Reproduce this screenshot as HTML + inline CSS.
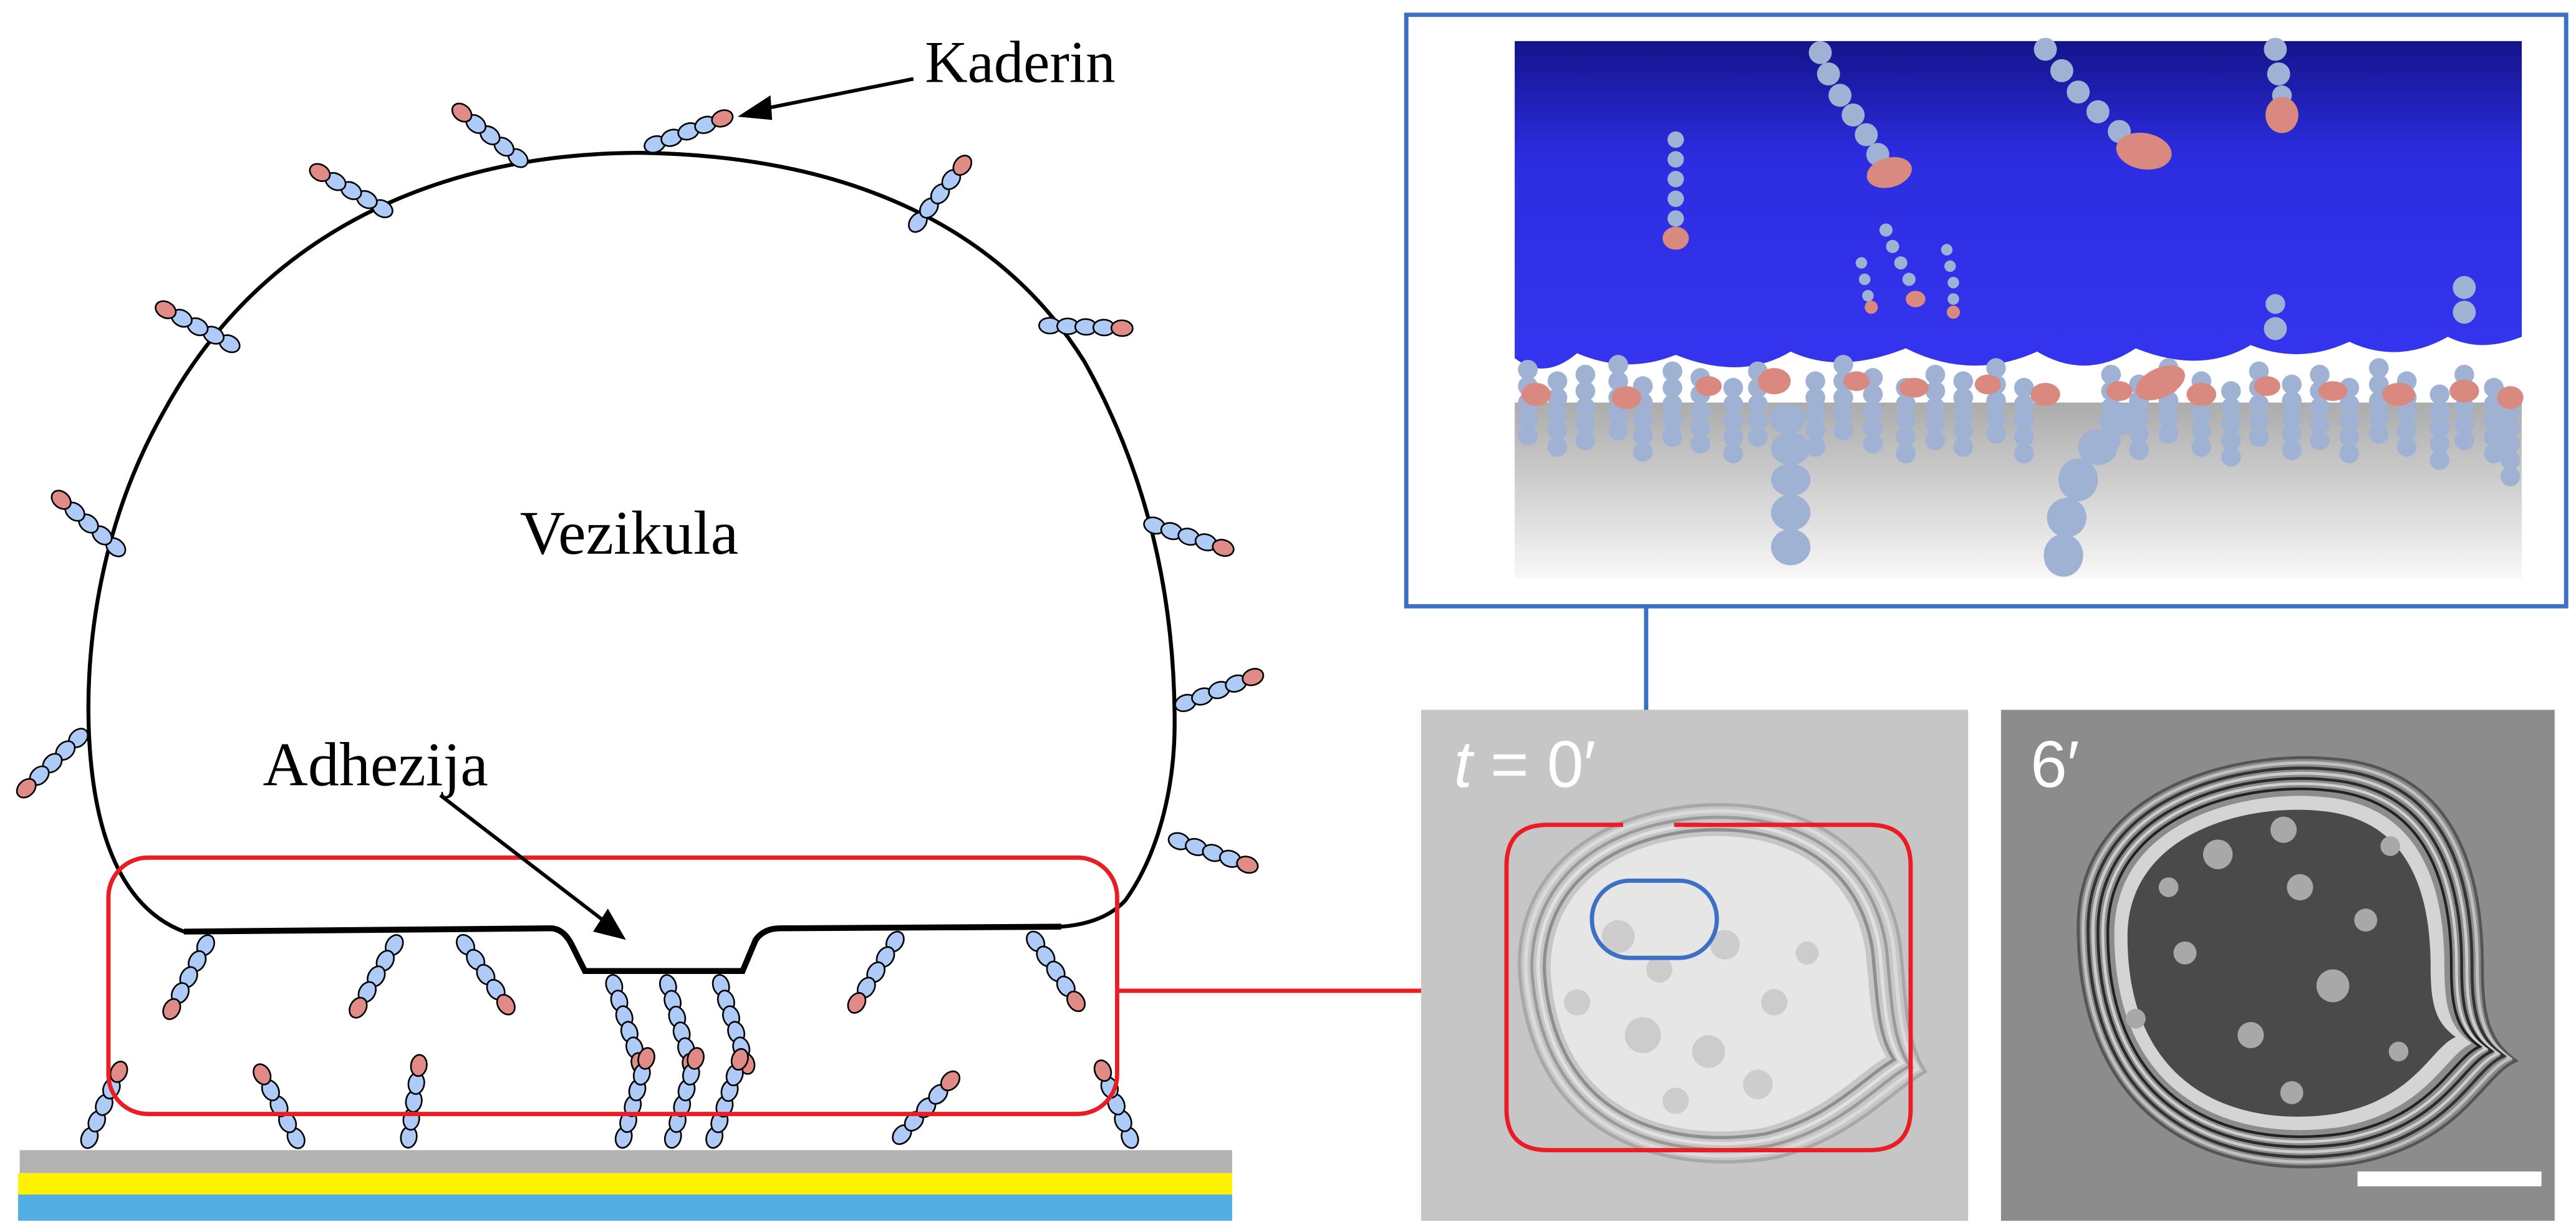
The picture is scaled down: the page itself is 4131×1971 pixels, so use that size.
<!DOCTYPE html>
<html><head><meta charset="utf-8"><style>
html,body{margin:0;padding:0;background:#fff;}
svg{display:block;}
</style></head><body>
<svg width="4131" height="1971" viewBox="0 0 1568 748" preserveAspectRatio="none" xmlns="http://www.w3.org/2000/svg">
<defs>
<g id="c5">
<ellipse cx="6" cy="0" rx="6.5" ry="4.8" fill="#aecbf8" stroke="#000" stroke-width="1"/>
<ellipse cx="17" cy="0" rx="6.5" ry="4.8" fill="#aecbf8" stroke="#000" stroke-width="1"/>
<ellipse cx="28" cy="0" rx="6.5" ry="4.8" fill="#aecbf8" stroke="#000" stroke-width="1"/>
<ellipse cx="39" cy="0" rx="6.5" ry="4.8" fill="#aecbf8" stroke="#000" stroke-width="1"/>
<ellipse cx="50" cy="0" rx="6.5" ry="4.8" fill="#e08b86" stroke="#000" stroke-width="1"/>
</g>
<g id="c6">
<ellipse cx="6" cy="0" rx="6.5" ry="4.8" fill="#aecbf8" stroke="#000" stroke-width="1"/>
<ellipse cx="16" cy="0" rx="6.5" ry="4.8" fill="#aecbf8" stroke="#000" stroke-width="1"/>
<ellipse cx="26" cy="0" rx="6.5" ry="4.8" fill="#aecbf8" stroke="#000" stroke-width="1"/>
<ellipse cx="36" cy="0" rx="6.5" ry="4.8" fill="#aecbf8" stroke="#000" stroke-width="1"/>
<ellipse cx="46" cy="0" rx="6.5" ry="4.8" fill="#aecbf8" stroke="#000" stroke-width="1"/>
<ellipse cx="56" cy="0" rx="6.5" ry="4.8" fill="#e08b86" stroke="#000" stroke-width="1"/>
</g>
<g id="mc">
<circle cx="0" cy="0" r="6" fill="#9fb2d3"/><circle cx="0" cy="10" r="6" fill="#9fb2d3"/><circle cx="0" cy="20" r="6" fill="#9fb2d3"/><circle cx="0" cy="30" r="6" fill="#9fb2d3"/><circle cx="0" cy="40" r="6" fill="#9fb2d3"/>
</g>
<linearGradient id="gs" x1="0" y1="0" x2="0" y2="1"><stop offset="0" stop-color="#14148a"/><stop offset="0.35" stop-color="#2c2ce0"/><stop offset="1" stop-color="#3535f0"/></linearGradient>
<linearGradient id="gg" x1="0" y1="0" x2="0" y2="1"><stop offset="0" stop-color="#a8a8a8"/><stop offset="1" stop-color="#f8f8f8"/></linearGradient>
<path id="b1" d="M-95,-10 C-95,-70 -40,-95 10,-95 C70,-95 100,-60 105,-20 C108,10 108,30 118,45 C100,55 80,80 40,90 C-20,100 -90,80 -95,-10Z"/>
<path id="b2" d="M-100,-20 C-100,-90 -20,-110 30,-105 C90,-100 105,-50 105,0 C105,25 108,38 122,48 C105,55 95,90 40,100 C-30,110 -100,80 -100,-20Z"/>
</defs>

<rect x="12" y="700" width="738" height="14" fill="#b2b2b2"/>
<rect x="11" y="714" width="739" height="13" fill="#fff200"/>
<rect x="11" y="727" width="739" height="16" fill="#52aee3"/>

<path d="M112,567 L335,565 Q343,565 348,575 L356,591 L452,591 L460,572 Q465,565 475,565 L646,564 Q672,562 685,548 C705,520 715,480 715,440 C715,380 705,300 660,220 C610,140 520,95 390,93 C270,93 160,140 100,250 C60,320 50,400 55,460 C60,520 80,555 112,567 Z" fill="#fff" stroke="#000" stroke-width="2.4"/>
<path d="M112,567 L335,565 Q343,565 348,575 L356,591 L452,591 L460,572 Q465,565 475,565 L646,564" fill="none" stroke="#000" stroke-width="3.6"/>

<use href="#c5" transform="translate(393,90) rotate(-21)"/>
<use href="#c5" transform="translate(320,100) rotate(-141)"/>
<use href="#c5" transform="translate(238,130) rotate(-150)"/>
<use href="#c5" transform="translate(145,212) rotate(-152)"/>
<use href="#c5" transform="translate(75,337) rotate(-139)"/>
<use href="#c5" transform="translate(52,445) rotate(136)"/>
<use href="#c5" transform="translate(555,140) rotate(-52)"/>
<use href="#c5" transform="translate(633,198) rotate(2)"/>
<use href="#c5" transform="translate(697,318) rotate(18)"/>
<use href="#c5" transform="translate(716,430) rotate(-21)"/>
<use href="#c5" transform="translate(712,510) rotate(19)"/>
<use href="#c5" transform="translate(128,570) rotate(118)"/>
<use href="#c5" transform="translate(243,570) rotate(120)"/>
<use href="#c5" transform="translate(280,570) rotate(56)"/>
<use href="#c5" transform="translate(548,568) rotate(122)"/>
<use href="#c5" transform="translate(627,568) rotate(56)"/>
<use href="#c6" transform="translate(372,594) rotate(72)"/>
<use href="#c6" transform="translate(405,594) rotate(74)"/>
<use href="#c6" transform="translate(437,594) rotate(72)"/>
<use href="#c5" transform="translate(52,698) rotate(-66)"/>
<use href="#c5" transform="translate(183,698) rotate(-118)"/>
<use href="#c5" transform="translate(248,698) rotate(-82)"/>
<use href="#c5" transform="translate(545,695) rotate(-48)"/>
<use href="#c5" transform="translate(690,698) rotate(-112)"/>
<use href="#c6" transform="translate(378,698) rotate(-74)"/>
<use href="#c6" transform="translate(408,698) rotate(-74)"/>
<use href="#c6" transform="translate(433,698) rotate(-72)"/>

<rect x="66" y="522" width="614" height="156" rx="24" fill="none" stroke="#ec1c24" stroke-width="2.6"/>
<line x1="680" y1="603" x2="918" y2="603" stroke="#ec1c24" stroke-width="2.6"/>

<text x="563" y="50" font-family="Liberation Serif, serif" font-size="36">Kaderin</text>
<line x1="556" y1="48" x2="466" y2="66" stroke="#000" stroke-width="2.2"/>
<polygon points="449,71 469,58 470,73" fill="#000"/>
<text x="383" y="337" text-anchor="middle" font-family="Liberation Serif, serif" font-size="38">Vezikula</text>
<text x="160" y="478" font-family="Liberation Serif, serif" font-size="38">Adhezija</text>
<line x1="268" y1="484" x2="367" y2="560" stroke="#000" stroke-width="2.2"/>
<polygon points="381,572 361,567 370,553" fill="#000"/>

<rect x="856" y="9" width="706" height="360" fill="#fff" stroke="#3b70c4" stroke-width="2.6"/>
<rect x="922" y="240" width="613" height="112" fill="url(#gg)"/>
<rect x="922" y="205" width="613" height="40" fill="#fff"/>
<path d="M922,25 L1535,25 L1535,205 Q1510,215 1490,205 Q1460,222 1430,208 Q1400,222 1370,210 Q1340,228 1300,212 Q1270,232 1240,214 Q1200,232 1160,212 Q1120,228 1090,214 Q1060,232 1020,216 Q990,228 960,215 Q940,232 922,218 Z" fill="url(#gs)"/>
<g>
<use href="#mc" transform="translate(930,225)"/><use href="#mc" transform="translate(948,232)"/><use href="#mc" transform="translate(965,228)"/><use href="#mc" transform="translate(985,222)"/><use href="#mc" transform="translate(1000,235)"/><use href="#mc" transform="translate(1018,226)"/><use href="#mc" transform="translate(1035,230)"/><use href="#mc" transform="translate(1055,236)"/><use href="#mc" transform="translate(1070,226)"/><use href="#mc" transform="translate(1105,232)"/><use href="#mc" transform="translate(1122,222)"/><use href="#mc" transform="translate(1140,230)"/><use href="#mc" transform="translate(1160,236)"/><use href="#mc" transform="translate(1178,228)"/><use href="#mc" transform="translate(1195,232)"/><use href="#mc" transform="translate(1215,224)"/><use href="#mc" transform="translate(1232,236)"/><use href="#mc" transform="translate(1285,228)"/><use href="#mc" transform="translate(1302,234)"/><use href="#mc" transform="translate(1320,224)"/><use href="#mc" transform="translate(1340,232)"/><use href="#mc" transform="translate(1358,238)"/><use href="#mc" transform="translate(1375,226)"/><use href="#mc" transform="translate(1395,234)"/><use href="#mc" transform="translate(1412,228)"/><use href="#mc" transform="translate(1430,236)"/><use href="#mc" transform="translate(1448,224)"/><use href="#mc" transform="translate(1465,232)"/><use href="#mc" transform="translate(1485,240)"/><use href="#mc" transform="translate(1500,228)"/><use href="#mc" transform="translate(1518,236)"/><use href="#mc" transform="translate(1528,250)"/>
</g>
<g fill="#d98980">
<ellipse cx="935" cy="240" rx="9" ry="7"/><ellipse cx="990" cy="242" rx="9" ry="7"/><ellipse cx="1040" cy="235" rx="8" ry="6"/><ellipse cx="1080" cy="232" rx="10" ry="8"/><ellipse cx="1130" cy="232" rx="8" ry="6"/><ellipse cx="1165" cy="236" rx="9" ry="6"/><ellipse cx="1210" cy="234" rx="8" ry="6"/><ellipse cx="1245" cy="240" rx="9" ry="7"/><ellipse cx="1290" cy="238" rx="8" ry="6"/><ellipse cx="1340" cy="240" rx="9" ry="7"/><ellipse cx="1380" cy="235" rx="8" ry="6"/><ellipse cx="1420" cy="238" rx="9" ry="6"/><ellipse cx="1460" cy="240" rx="10" ry="7"/><ellipse cx="1500" cy="238" rx="9" ry="7"/><ellipse cx="1528" cy="242" rx="8" ry="7"/>
<ellipse cx="1315" cy="233" rx="16" ry="9" transform="rotate(-25 1315 233)"/>
</g>
<g fill="#9fb2d3">
<ellipse cx="1088" cy="255" rx="11" ry="9"/><ellipse cx="1090" cy="273" rx="12" ry="10"/><ellipse cx="1090" cy="292" rx="12" ry="10"/><ellipse cx="1090" cy="312" rx="12" ry="11"/><ellipse cx="1090" cy="333" rx="12" ry="11"/>
<ellipse cx="1290" cy="255" rx="12" ry="10"/><ellipse cx="1277" cy="272" rx="12" ry="11"/><ellipse cx="1265" cy="292" rx="12" ry="13"/><ellipse cx="1258" cy="315" rx="12" ry="12"/><ellipse cx="1256" cy="338" rx="12" ry="13"/>
<circle cx="1108" cy="32" r="7"/><circle cx="1113" cy="45" r="7"/><circle cx="1120" cy="58" r="7"/><circle cx="1128" cy="70" r="7"/><circle cx="1136" cy="82" r="7"/><circle cx="1143" cy="94" r="7"/>
<circle cx="1020" cy="85" r="5"/><circle cx="1020" cy="97" r="5"/><circle cx="1020" cy="109" r="5"/><circle cx="1020" cy="121" r="5"/><circle cx="1020" cy="133" r="5"/>
<circle cx="1245" cy="30" r="7"/><circle cx="1255" cy="43" r="7"/><circle cx="1265" cy="56" r="7"/><circle cx="1277" cy="68" r="7"/><circle cx="1290" cy="80" r="7"/>
<circle cx="1385" cy="30" r="7"/><circle cx="1387" cy="45" r="7"/><circle cx="1389" cy="58" r="6"/>
<circle cx="1148" cy="140" r="4"/><circle cx="1152" cy="150" r="4"/><circle cx="1157" cy="160" r="4"/><circle cx="1162" cy="170" r="4"/>
<circle cx="1133" cy="160" r="3.5"/><circle cx="1135" cy="170" r="3.5"/><circle cx="1137" cy="180" r="3.5"/>
<circle cx="1185" cy="152" r="3.5"/><circle cx="1187" cy="162" r="3.5"/><circle cx="1189" cy="172" r="3.5"/><circle cx="1189" cy="182" r="3.5"/>
<circle cx="1385" cy="185" r="6"/><circle cx="1385" cy="200" r="7"/><circle cx="1500" cy="175" r="7"/><circle cx="1500" cy="190" r="7"/>
</g>
<g fill="#d98980">
<ellipse cx="1150" cy="105" rx="14" ry="9" transform="rotate(-15 1150 105)"/>
<ellipse cx="1020" cy="145" rx="8" ry="7"/>
<ellipse cx="1305" cy="92" rx="17" ry="11" transform="rotate(10 1305 92)"/>
<ellipse cx="1389" cy="70" rx="10" ry="11"/>
<ellipse cx="1166" cy="182" rx="6" ry="5"/><ellipse cx="1139" cy="187" rx="4" ry="4"/><ellipse cx="1189" cy="190" rx="4" ry="4"/>
</g>

<line x1="1002" y1="369" x2="1002" y2="536" stroke="#3b70c4" stroke-width="2.6"/>

<!-- micrograph 1 -->
<rect x="865" y="432" width="333" height="311" fill="#c6c6c6"/>
<g transform="translate(1035,600)" fill="none">
<use href="#b1" transform="scale(1.16)" stroke="#a8a8a8" stroke-width="1.8"/>
<use href="#b1" transform="scale(1.12)" stroke="#dadada" stroke-width="2"/>
<use href="#b1" transform="scale(1.08)" stroke="#9a9a9a" stroke-width="1.8"/>
<use href="#b1" transform="scale(1.04)" stroke="#e0e0e0" stroke-width="2"/>
<use href="#b1" transform="scale(1.00)" stroke="#8e8e8e" stroke-width="2"/>
<use href="#b1" transform="scale(0.96)" fill="#e6e6e6"/>
</g>
<g fill="#c8c8c8" opacity="0.85">
<circle cx="985" cy="570" r="10"/><circle cx="1010" cy="590" r="8"/><circle cx="1050" cy="575" r="9"/><circle cx="1000" cy="630" r="11"/><circle cx="1040" cy="640" r="10"/><circle cx="1080" cy="610" r="8"/><circle cx="1070" cy="660" r="9"/><circle cx="960" cy="610" r="8"/><circle cx="1100" cy="580" r="7"/><circle cx="1020" cy="670" r="8"/>
</g>
<text x="885" y="479" font-family="Liberation Sans, sans-serif" font-size="40" fill="#fff"><tspan font-style="italic">t</tspan> = 0′</text>
<path d="M988,502 L942,502 Q917,502 917,527 L917,675 Q917,700 942,700 L1138,700 Q1163,700 1163,675 L1163,527 Q1163,502 1138,502 L1019,502" fill="none" stroke="#ec1c24" stroke-width="2.6"/>
<rect x="969" y="536" width="76" height="47" rx="23" fill="none" stroke="#3b70c4" stroke-width="2.6"/>

<!-- micrograph 2 -->
<rect x="1218" y="432" width="337" height="311" fill="#8c8c8c"/>
<g transform="translate(1385,588)" fill="none">
<use href="#b2" transform="scale(1.20)" stroke="#555" stroke-width="1.5"/>
<use href="#b2" transform="scale(1.17)" stroke="#c0c0c0" stroke-width="1.6"/>
<use href="#b2" transform="scale(1.14)" stroke="#333" stroke-width="1.6"/>
<use href="#b2" transform="scale(1.11)" stroke="#cccccc" stroke-width="1.6"/>
<use href="#b2" transform="scale(1.08)" stroke="#2a2a2a" stroke-width="1.6"/>
<use href="#b2" transform="scale(1.05)" stroke="#d0d0d0" stroke-width="1.6"/>
<use href="#b2" transform="scale(1.02)" stroke="#222" stroke-width="1.6"/>
<use href="#b2" transform="scale(0.98)" fill="#d4d4d4"/>
<use href="#b2" transform="scale(0.90)" fill="#4a4a4a"/>
</g>
<g fill="#a8a8a8">
<circle cx="1350" cy="520" r="9"/><circle cx="1400" cy="540" r="8"/><circle cx="1330" cy="580" r="7"/><circle cx="1420" cy="600" r="10"/><circle cx="1370" cy="630" r="8"/><circle cx="1440" cy="560" r="7"/><circle cx="1300" cy="620" r="6"/><circle cx="1395" cy="665" r="7"/><circle cx="1460" cy="640" r="6"/><circle cx="1320" cy="540" r="6"/><circle cx="1390" cy="505" r="8"/><circle cx="1455" cy="515" r="6"/>
</g>
<text x="1236" y="479" font-family="Liberation Sans, sans-serif" font-size="40" fill="#fff">6′</text>
<rect x="1435" y="713" width="112" height="9" fill="#fff"/>
</svg>
</body></html>
